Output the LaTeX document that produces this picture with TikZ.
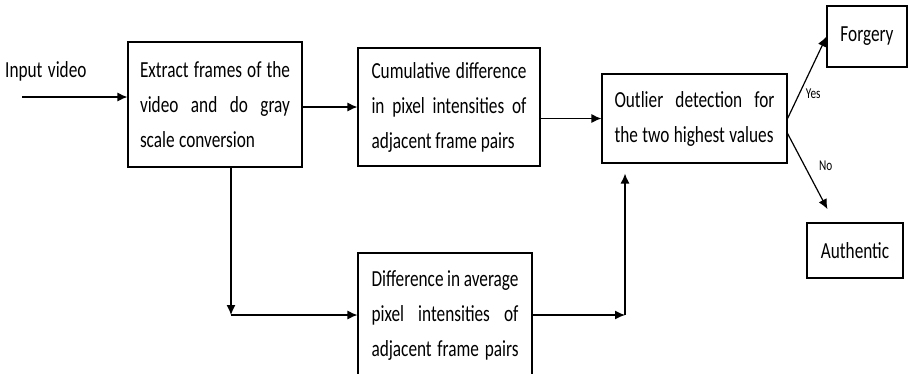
\documentclass[tikz,border=0pt]{standalone}
\usepackage{fontspec}
\usepackage{tikz}
\usetikzlibrary{calc}
\usetikzlibrary{arrows.meta}
\newfontfamily\diagfont{Carlito}[FakeStretch=0.75]
\newcommand{\boxfont}{\diagfont\fontsize{23}{35}\selectfont\spaceskip 5.5pt plus 1pt minus 1pt\relax}
\newcommand{\jline}[1]{\makebox[\hsize][s]{\spaceskip 3pt plus 1fil minus 3pt\relax #1}}
\newcommand{\wline}[2]{\makebox[\hsize][l]{\makebox[#1][s]{\spaceskip 3pt plus 1fil minus 3pt\relax #2}}}
\tikzstyle{procnode}=[black, draw=black, line width=1.1pt, shape=rectangle, fill=white, inner sep=0pt, align=left, font=\boxfont]
\tikzstyle{endnode}=[black, draw=black, line width=1.1pt, shape=rectangle, fill=white, inner sep=0pt, font=\boxfont]
\tikzstyle{textnode}=[black, inner sep=0pt, font=\boxfont]
\tikzstyle{labnode}=[black, inner sep=0pt, font=\diagfont\fontsize{15}{18}\selectfont]
\tikzstyle{flowarrow}=[-{Latex[length=10pt, width=9pt]}, line width=1.2pt, color=black]

\begin{document}
\begin{tikzpicture}[x=1pt, y=-1pt]
\clip (0,0) rectangle (909,373);
\node [textnode, anchor=base west] (invideo) at (5,77) {Input video};
\node [procnode, minimum width=174pt, minimum height=125pt, text width=150pt] (extract) at (215,104.5) {\jline{Extract frames of the}\\\jline{video and do gray}\\\wline{115pt}{scale conversion}};
\node [procnode, minimum width=182pt, minimum height=118pt, text width=155pt] (cumdiff) at (449,107) {\jline{Cumulative difference}\\\jline{in pixel intensities of}\\\wline{143pt}{adjacent frame pairs}};
\node [procnode, minimum width=174pt, minimum height=126pt, text width=147pt] (avgdiff) at (445,316) {\jline{Difference in average}\\\jline{pixel intensities of}\\\wline{147pt}{adjacent frame pairs}};
\node [procnode, minimum width=185pt, minimum height=89pt, text width=160pt] (outlier) at (694.5,118.5) {\jline{Outlier detection for}\\\wline{159pt}{the two highest values}};
\node [endnode, minimum width=80pt, minimum height=61pt] (forgery) at (867,36.5) {Forgery};
\node [endnode, minimum width=96pt, minimum height=55pt] (authentic) at (855,250.5) {Authentic};
\coordinate (src) at (22,97);
\coordinate (split) at (231,315);
\coordinate (join) at (625,315);

\draw[flowarrow] (src) -- (src -| extract.west);
\draw[flowarrow] (extract.east |- cumdiff.west) -- (cumdiff.west);
\draw[flowarrow] (cumdiff.east |- outlier.west) -- (outlier.west);
\draw[flowarrow] (split |- extract.south) -- (split);
\draw[flowarrow] (split) -- (split -| avgdiff.west);
\draw[flowarrow] (avgdiff.east |- join) -- (join);
\draw[flowarrow, shorten >=10pt] (join) -- (join |- outlier.south);
\draw[flowarrow] (outlier.east) -- (forgery.west) node[labnode, pos=0.3, right=6pt] (yes) {Yes};
\draw[flowarrow, shorten >=15pt] ([yshift=-15pt]outlier.east) -- ([xshift=28pt]authentic.north west) node[labnode, pos=0.36, right=14pt] (no) {No};
\end{tikzpicture}
\end{document}
